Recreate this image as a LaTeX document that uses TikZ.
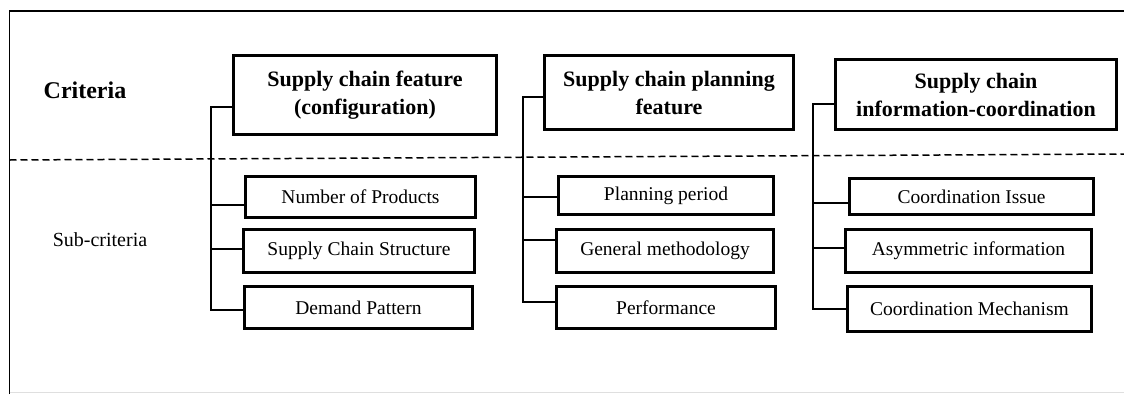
\documentclass[tikz,border=0pt]{standalone}
\usepackage{fontspec}
\setmainfont{Liberation Serif}
\usetikzlibrary{calc}
\tikzset{
  mainbox/.style={draw, line width=3pt, align=center, inner sep=0pt,
    font=\fontsize{22}{28}\selectfont\bfseries},
  subbox/.style={draw, line width=2.6pt, align=center, inner sep=0pt,
    font=\fontsize{19.5}{22}\selectfont},
  conn/.style={line width=1.6pt},
  frame/.style={line width=1.6pt},
  sep/.style={line width=1.5pt, dash pattern=on 7pt off 4pt},
}
\begin{document}
\begin{tikzpicture}[x=1pt,y=-1pt]
\useasboundingbox (0,0) rectangle (1124,394);
% frame
\draw[frame] (9.5,394) -- (9.5,11) -- (1124,11);
\draw[gray!25, line width=1pt] (9.5,392.5) -- (1124,392.5);
% separator
\draw[sep] (9.5,160) -- (1124,154);
% side labels
\node[font=\fontsize{24}{28}\selectfont\bfseries] (crit) at (85,90) {Criteria};
\node[font=\fontsize{20}{24}\selectfont] (subcrit) at (100,240) {Sub-criteria};
% column 1
\node[mainbox, minimum width=263pt, minimum height=79pt] (m1) at (365,95) {Supply chain feature\\(configuration)};
\node[subbox, minimum width=230pt, minimum height=41pt] (s11) at (360.5,197) {Number of Products};
\node[subbox, minimum width=231pt, minimum height=43pt] (s12) at (359,251) {Supply Chain Structure};
\node[subbox, minimum width=228pt, minimum height=42pt] (s13) at (358.5,307.5) {Demand Pattern};
% column 2
\node[mainbox, minimum width=249pt, minimum height=74pt] (m2) at (669,92.5) {Supply chain planning\\feature};
\node[subbox, minimum width=215pt, minimum height=38pt] (s21) at (666,195.5) {Planning period};
\node[subbox, minimum width=217pt, minimum height=43pt] (s22) at (665,251) {General methodology};
\node[subbox, minimum width=219pt, minimum height=42pt] (s23) at (666,307.5) {Performance};
% column 3
\node[mainbox, minimum width=281pt, minimum height=70pt] (m3) at (976,94.5) {Supply chain\\information-coordination};
\node[subbox, minimum width=244pt, minimum height=36pt] (s31) at (971.5,196.5) {Coordination Issue};
\node[subbox, minimum width=246pt, minimum height=43pt] (s32) at (968.5,251) {Asymmetric information};
\node[subbox, minimum width=244pt, minimum height=45pt] (s33) at (969.5,309) {Coordination Mechanism};
% connectors column 1
\coordinate (t10) at (211,107);
\coordinate (t11) at (211,205);
\coordinate (t12) at (211,249);
\coordinate (t13) at (211,310);
\draw[conn] (t10 -| m1.west) -- (t10) -- (t13) -- (t13 -| s13.west);
\draw[conn] (t11) -- (t11 -| s11.west);
\draw[conn] (t12) -- (t12 -| s12.west);
% connectors column 2
\coordinate (t20) at (523,97);
\coordinate (t21) at (523,197);
\coordinate (t22) at (523,240);
\coordinate (t23) at (523,302);
\draw[conn] (t20 -| m2.west) -- (t20) -- (t23) -- (t23 -| s23.west);
\draw[conn] (t21) -- (t21 -| s21.west);
\draw[conn] (t22) -- (t22 -| s22.west);
% connectors column 3
\coordinate (t30) at (813,104);
\coordinate (t31) at (813,203);
\coordinate (t32) at (813,248);
\coordinate (t33) at (813,309);
\draw[conn] (t30 -| m3.west) -- (t30) -- (t33) -- (t33 -| s33.west);
\draw[conn] (t31) -- (t31 -| s31.west);
\draw[conn] (t32) -- (t32 -| s32.west);
\end{tikzpicture}
\end{document}
